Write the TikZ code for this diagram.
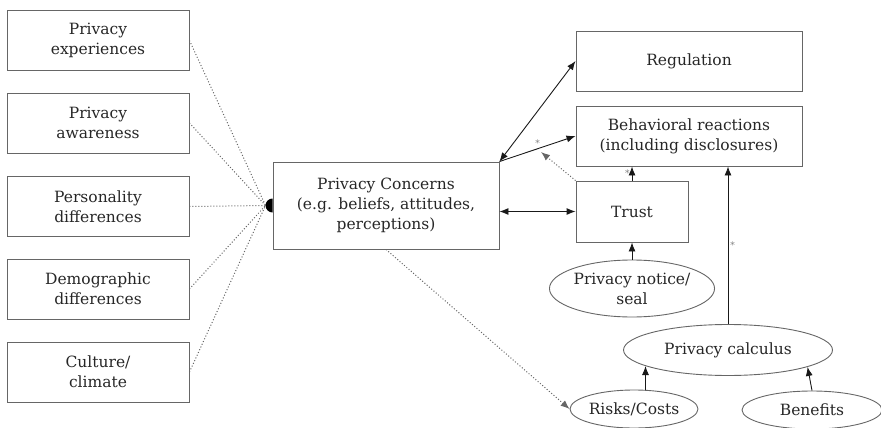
\documentclass[tikz,border=0pt]{standalone}
\usepackage{fontspec}
\setmainfont{DejaVu Serif}
\usetikzlibrary{shapes.geometric,arrows.meta}
\begin{document}
\begin{tikzpicture}[x=1pt,y=-1pt,>={Latex[length=9pt,width=7pt]}]
	\tikzstyle{b} = [draw=black!60, line width=0.9pt, rectangle, inner sep=0, align=center, text=black!85, font=\fontsize{15.5}{20}\selectfont]
	\tikzstyle{e} = [b, ellipse]
	\tikzstyle{d} = [black!60, line width=1pt, dotted]
	\tikzstyle{a} = [black!90, line width=0.9pt]
	\tikzstyle{s} = [text=black!50, font=\small, inner sep=2pt]

	\useasboundingbox (0,0) rectangle (881,428);

	\node [b, minimum width=182, minimum height=60] (exp) at (98,40.5) {Privacy\\experiences};
	\node [b, minimum width=182, minimum height=60] (awa) at (98,123) {Privacy\\awareness};
	\node [b, minimum width=182, minimum height=60] (per) at (98,206.5) {Personality\\differences};
	\node [b, minimum width=182, minimum height=60] (dem) at (98,289) {Demographic\\differences};
	\node [b, minimum width=182, minimum height=60] (cul) at (98,372) {Culture/\\climate};

	\node [b, minimum width=226, minimum height=87] (conc) at (386,205.5) {Privacy Concerns\\(e.g. beliefs, attitudes,\\perceptions)};

	\node [b, minimum width=226, minimum height=60] (reg) at (689,61) {Regulation};
	\node [b, minimum width=226, minimum height=60] (beh) at (689,136) {Behavioral reactions\\(including disclosures)};
	\node [b, minimum width=112, minimum height=61] (trust) at (632,211.5) {Trust};

	\node [e, minimum width=159, minimum height=57] (seal) at (632,288.5) {Privacy notice/\\seal};
	\node [e, minimum width=209, minimum height=51] (calc) at (728,350) {Privacy calculus};
	\node [e, minimum width=118, minimum height=38] (risk) at (634,409) {Risks/Costs};
	\node [e, minimum width=140, minimum height=38] (ben) at (812,410) {Benefits};

	\coordinate (hub) at ([xshift=-7pt]conc.west);
	\coordinate (mod) at (541,152);

	\draw [d] (exp.east) -- (hub);
	\draw [d] (awa.east) -- (hub);
	\draw [d] (per.east) -- (hub);
	\draw [d] (dem.east) -- (hub);
	\draw [d] (cul.east) -- (hub);
	\fill ([yshift=7pt]conc.west) arc [start angle=90, end angle=270, radius=7pt] -- cycle;

	\draw [a, <->] (conc.north east) -- (reg.west);
	\draw [a, ->] (conc.north east) -- (beh.west) node[midway, above, s] {*};
	\draw [d, ->] (trust.north west) -- (mod);
	\draw [a, <->] (trust.west -| conc.east) -- (trust.west);
	\draw [a, ->] (trust.north) -- (trust.north |- beh.south) node[midway, left, s] {*};
	\draw [a, ->] (seal.north) -- (trust.south);
	\draw [a, ->] (calc.north) -- (calc.north |- beh.south) node[midway, right, s] {*};
	\draw [d, ->] (conc.south) -- (risk.west);
	\draw [a, ->] (risk.59) -- (calc.191.6);
	\draw [a, ->] (ben.north) -- (calc.348.1);

\end{tikzpicture}
\end{document}
